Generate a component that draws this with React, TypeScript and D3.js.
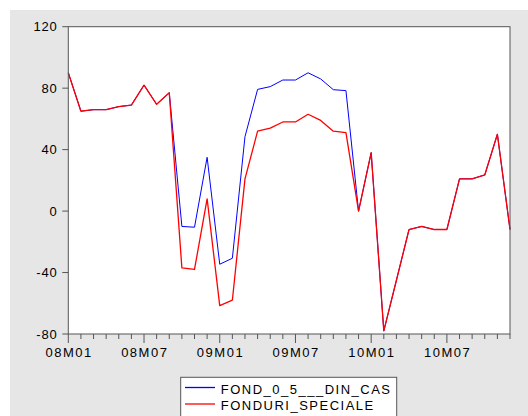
import React from "react";
import * as d3 from "d3";

const months = [
  "08M01","08M02","08M03","08M04","08M05","08M06","08M07","08M08","08M09","08M10","08M11","08M12",
  "09M01","09M02","09M03","09M04","09M05","09M06","09M07","09M08","09M09","09M10","09M11","09M12",
  "10M01","10M02","10M03","10M04","10M05","10M06","10M07","10M08","10M09","10M10","10M11","10M12",
];
const fond05DinCas = [
  90, 65, 66, 66, 68, 69, 82, 69.5, 77, -10, -10.5, 35,
  -34.6, -30.7, 48.4, 79.2, 81, 85.3, 85.3, 90, 86, 79, 78.4, 0,
  38, -78, -45, -12, -10, -12, -12, 21, 21, 23.5, 50, -12,
];
const fonduriSpeciale = [
  90, 65, 66, 66, 68, 69, 82, 69.5, 77, -37, -38, 8,
  -61.5, -58, 21, 52, 54, 58, 58, 63, 59, 52, 51, 0,
  38, -78, -45, -12, -10, -12, -12, 21, 21, 23.5, 50, -12,
];
const yTicks = [-80, -40, 0, 40, 80, 120];
const xTickLabels = ["08M01", "08M07", "09M01", "09M07", "10M01", "10M07"];
const seriesNames = ["FOND_0_5___DIN_CAS", "FONDURI_SPECIALE"];
const seriesColors = ["#0000ff", "#ff0000"];
const seriesWidths = [1.0, 1.3];

export default function App() {
  const W = 528, H = 416;
  const left = 68.3, right = 510, top = 26.7, bottom = 334;
  const x = d3.scaleLinear().domain([0, months.length - 1]).range([left, right]);
  const y = d3.scaleLinear().domain([-80, 120]).range([bottom, top]);
  const line = d3.line<number>().x((_, i) => x(i)).y((d) => y(d));
  const font = "'Liberation Sans', Arial, sans-serif";
  const axisColor = "#555";
  const series = [fond05DinCas, fonduriSpeciale];

  return (
    <svg width={W} height={H} style={{ position: "fixed", left: 0, top: 0 }}>
      <rect x={0} y={0} width={W} height={H} fill="#fff" />
      <rect x={10} y={10} width={W - 10} height={H - 10} fill="#e6e6e6" />
      <rect x={left} y={top} width={right - left} height={bottom - top} fill="#fff" />
      {series.map((s, k) => (
        <path key={k} d={line(s) || ""} fill="none" stroke={seriesColors[k]} strokeWidth={seriesWidths[k]} strokeLinejoin="round" />
      ))}
      <rect x={left} y={top} width={right - left} height={bottom - top} fill="none" stroke={axisColor} strokeWidth={1} />
      {yTicks.map((t) => (
        <g key={t}>
          <line x1={left - 6} x2={left} y1={y(t)} y2={y(t)} stroke={axisColor} />
          <text x={57.5} y={y(t) + 4.7} textAnchor="end" fontFamily={font} fontSize={13} letterSpacing={0.8} fill="#000">
            {t}
          </text>
        </g>
      ))}
      {months.map((m, i) => {
        const major = xTickLabels.includes(m);
        return (
          <line key={m} x1={x(i)} x2={x(i)} y1={bottom} y2={bottom + (major ? 9 : 5)} stroke={axisColor} />
        );
      })}
      {xTickLabels.map((lbl) => (
        <text key={lbl} x={x(months.indexOf(lbl)) + 0.75} y={357.3} textAnchor="middle" fontFamily={font} fontSize={13} letterSpacing={1.5} fill="#000">
          {lbl}
        </text>
      ))}
      <rect x={180.7} y={377.3} width={216} height={50} fill="#fff" stroke={axisColor} />
      {seriesNames.map((n, k) => (
        <g key={n}>
          <line x1={185} x2={215} y1={387.5 + k * 16.5} y2={387.5 + k * 16.5} stroke={seriesColors[k]} strokeWidth={1.3} />
          <text x={220.7} y={394 + k * 16} fontFamily={font} fontSize={13} letterSpacing={1.5} fill="#000">
            {n}
          </text>
        </g>
      ))}
    </svg>
  );
}
